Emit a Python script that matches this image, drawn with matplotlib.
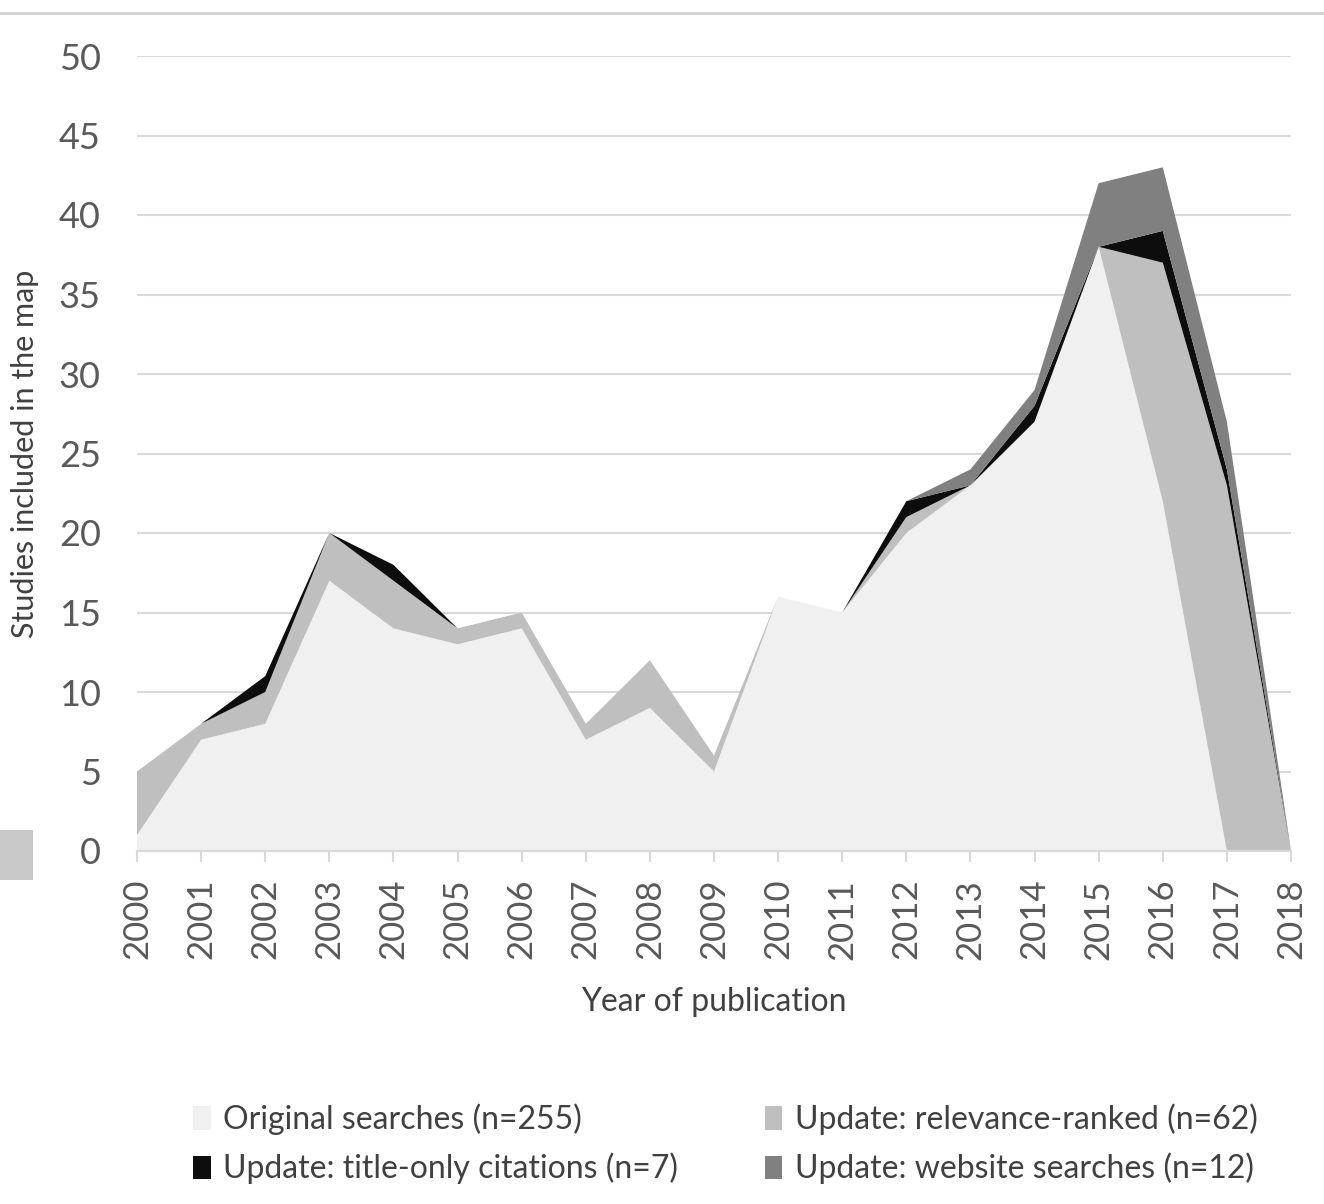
import matplotlib
matplotlib.use("Agg")
import matplotlib.pyplot as plt
from matplotlib.patches import Patch, Rectangle
from matplotlib.lines import Line2D

years = list(range(2000, 2019))
original = [1, 7, 8, 17, 14, 13, 14, 7, 9, 5, 16, 15, 20, 23, 27, 38, 22, 0, 0]
relevance = [4, 1, 2, 3, 3, 1, 1, 1, 3, 1, 0, 0, 1, 0, 0, 0, 15, 23, 0]
title_only = [0, 0, 1, 0, 1, 0, 0, 0, 0, 0, 0, 0, 1, 0, 1, 0, 2, 1, 0]
website = [0, 0, 0, 0, 0, 0, 0, 0, 0, 0, 0, 0, 0, 1, 1, 4, 4, 3, 0]

labels = ["Original searches (n=255)", "Update: relevance-ranked (n=62)",
          "Update: title-only citations (n=7)", "Update: website searches (n=12)"]
colors = ["#f0f0f0", "#bfbfbf", "#0d0d0d", "#808080"]
yticks = [0, 5, 10, 15, 20, 25, 30, 35, 40, 45, 50]

plt.rcParams['font.family'] = ['Lato', 'DejaVu Sans']

W, H = 1324, 1204
fig = plt.figure(figsize=(W / 100, H / 100), dpi=100)
ax = fig.add_axes([137 / W, 1 - 851 / H, (1291 - 137) / W, (851 - 56) / H])

ax.stackplot(years, original, relevance, title_only, website,
             colors=colors, linewidth=0, zorder=2)

ax.set_xlim(2000, 2018)
ax.set_ylim(0, 50)
ax.set_yticks(yticks)
ax.set_xticks(years)
ax.set_xticklabels([str(y) for y in years], rotation=90)
ax.grid(axis='y', color='#d9d9d9', linewidth=1.5, zorder=0)
ax.set_axisbelow(True)
for s in ['top', 'right', 'left']:
    ax.spines[s].set_visible(False)
ax.spines['bottom'].set_color('#d9d9d9')
ax.spines['bottom'].set_linewidth(1.5)
ax.spines['bottom'].set_zorder(3)
ax.tick_params(axis='y', length=0, pad=26, labelsize=26, labelcolor='#595959')
ax.tick_params(axis='x', length=8, width=1.5, color='#d9d9d9', pad=12,
               labelsize=25, labelcolor='#595959')

ax.set_ylabel("Studies included in the map", fontsize=22, color='#404040', labelpad=14)
ax.set_xlabel("Year of publication", fontsize=23, color='#404040', labelpad=20)

handles = [Patch(facecolor=c, edgecolor='none') for c in colors]
order = [0, 2, 1, 3]
leg = fig.legend([handles[i] for i in order], [labels[i] for i in order],
                 ncol=2, loc='center', bbox_to_anchor=(0.548, 1 - 1144 / H),
                 frameon=False, fontsize=23, handlelength=0.55, handleheight=0.75,
                 handletextpad=0.4, columnspacing=2.7, labelspacing=0.55,
                 labelcolor='#404040')

fig.add_artist(Line2D([0, 1], [1 - 13 / H, 1 - 13 / H], color='#d0d0d0',
                      linewidth=2, transform=fig.transFigure))
fig.add_artist(Rectangle((0, 1 - 880 / H), 33 / W, 50 / H, facecolor='#c8c8c8',
                         edgecolor='none', transform=fig.transFigure))

fig.savefig("out.png", dpi=100, facecolor='white')
